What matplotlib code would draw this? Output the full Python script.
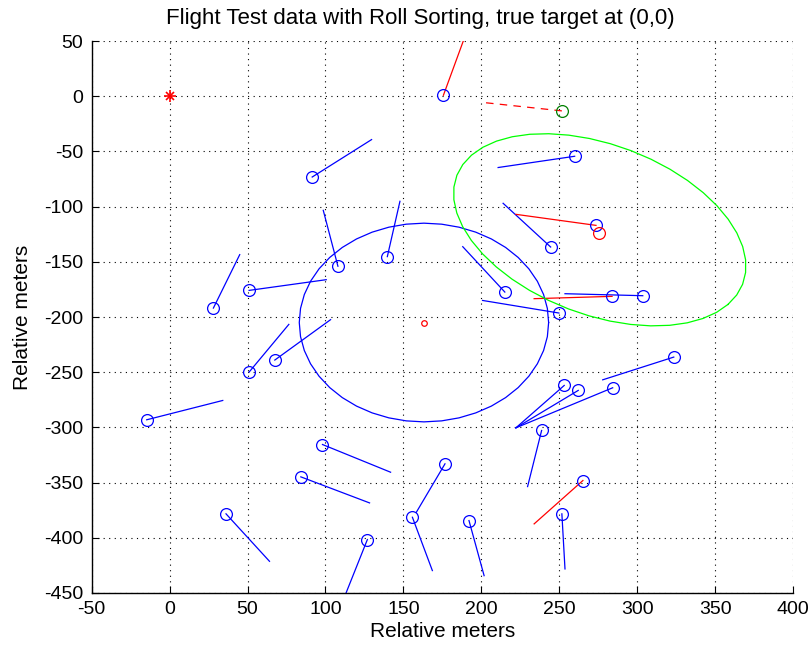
import numpy as np
import matplotlib
matplotlib.use('Agg')
import matplotlib.pyplot as plt

plt.rcParams['font.family'] = ['Liberation Sans', 'DejaVu Sans']
plt.rcParams['axes.unicode_minus'] = False

# estimated positions (o) and the tail end of each track line
blue_x = [91.5, 108.0, 139.7, 51.0, 28.1, 259.9, 244.5, 215.1, 249.8, 303.6,
          323.5, 253.2, 262.2, 284.3, 238.7, 251.7, 192.1, 176.7, 155.8,
          -14.7, 51.0, 67.5, 98.1, 84.2, 36.2, 126.9]
blue_y = [-73.2, -154.0, -145.3, -175.9, -191.9, -54.4, -136.6, -177.4, -196.4, -180.7,
          -236.3, -262.0, -266.5, -264.1, -302.8, -378.3, -384.4, -333.0, -381.4,
          -293.1, -249.9, -239.0, -315.5, -344.8, -378.3, -401.6]
blue_tail_x = [129.6, 98.6, 147.8, 100.5, 45.0, 210.8, 214.0, 188.1, 200.8, 253.7,
               277.9, 222.2, 222.2, 222.2, 229.7, 253.7, 201.8, 158.3, 168.6,
               34.1, 76.5, 103.3, 141.8, 128.3, 64.1, 111.8]
blue_tail_y = [-39.3, -103.4, -95.2, -166.2, -143.5, -64.6, -97.0, -136.3, -185.0, -178.9,
               -256.9, -300.4, -300.4, -300.4, -353.6, -428.2, -434.3, -376.9, -429.7,
               -275.6, -206.7, -202.4, -340.6, -368.4, -421.3, -455.0]

# positions whose track line is drawn in red
red_x = [175.7, 273.6, 283.9, 265.2]
red_y = [0.9, -117.0, -181.3, -348.1]
red_tail_x = [190.0, 222.2, 233.9, 233.9]
red_tail_y = [56.0, -107.0, -183.4, -387.4]

# sorted pick and its heading
pick_x, pick_y = 251.7, -13.3
pick_tail_x, pick_tail_y = 201.4, -5.7

# true target and the two estimates with their error ellipses
target = (0, 0)
est1 = (163.2, -205.0)
est1_axes = (80.0, 90.0, 0.0)
est2 = (276.0, -121.0)
est2_axes = (106.5, 71.0, -39.4)


def ellipse(c, ax_len, n=45):
    a, b, ang = ax_len
    t = np.linspace(0, 2 * np.pi, n)
    th = np.deg2rad(ang)
    ex = a * np.cos(t)
    ey = b * np.sin(t)
    x = c[0] + ex * np.cos(th) - ey * np.sin(th)
    y = c[1] + ex * np.sin(th) + ey * np.cos(th)
    return x, y


fig = plt.figure(figsize=(8.12, 6.51), dpi=100)
ax = fig.add_axes([0.1129, 0.0891, 0.8637, 0.8479])

lw = 0.9
ms = 8.5

for i in range(len(blue_x)):
    ax.plot([blue_x[i], blue_tail_x[i]], [blue_y[i], blue_tail_y[i]], color='b', lw=lw)
for i in range(len(red_x)):
    ax.plot([red_x[i], red_tail_x[i]], [red_y[i], red_tail_y[i]], color='r', lw=lw)
ax.plot([pick_x, pick_tail_x], [pick_y, pick_tail_y], color='r', ls=(0, (6, 5)), lw=lw)

ax.plot(blue_x, blue_y, 'o', color='b', mfc='none', ms=ms, mew=lw)
ax.plot(red_x, red_y, 'o', color='b', mfc='none', ms=ms, mew=lw)
ax.plot(pick_x, pick_y, 'o', color=(0, 0.5, 0), mfc='none', ms=ms, mew=lw)

ex, ey = ellipse(est1, est1_axes)
ax.plot(ex, ey, color='b', lw=lw)
ex, ey = ellipse(est2, est2_axes)
ax.plot(ex, ey, color=(0, 1, 0), lw=lw)

ax.plot(est1[0], est1[1], 'o', color='r', mfc='none', ms=4, mew=lw)
ax.plot(275.7, -123.6, 'o', color='r', mfc='none', ms=ms, mew=lw)
ax.plot(target[0], target[1], '+', color='r', ms=8, mew=1.2)
ax.plot(target[0], target[1], 'x', color='r', ms=6, mew=1.2)

ax.set_xlim(-50, 400)
ax.set_ylim(-450, 50)
ax.set_xticks(np.arange(-50, 401, 50))
ax.set_yticks(np.arange(-450, 51, 50))
ax.grid(True, color='k', ls=(0, (1, 4)), lw=0.8)
ax.spines['top'].set_visible(False)
ax.spines['right'].set_visible(False)
ax.spines['left'].set_linewidth(1.0)
ax.spines['bottom'].set_linewidth(1.0)
ax.tick_params(direction='in', length=5, labelsize=14, pad=6)

ax.set_title('Flight Test data with Roll Sorting, true target at (0,0)', fontsize=16, pad=12, x=0.468)
ax.set_xlabel('Relative meters', fontsize=15, labelpad=3)
ax.set_ylabel('Relative meters', fontsize=15, labelpad=9)

fig.savefig('out.png', dpi=100)
